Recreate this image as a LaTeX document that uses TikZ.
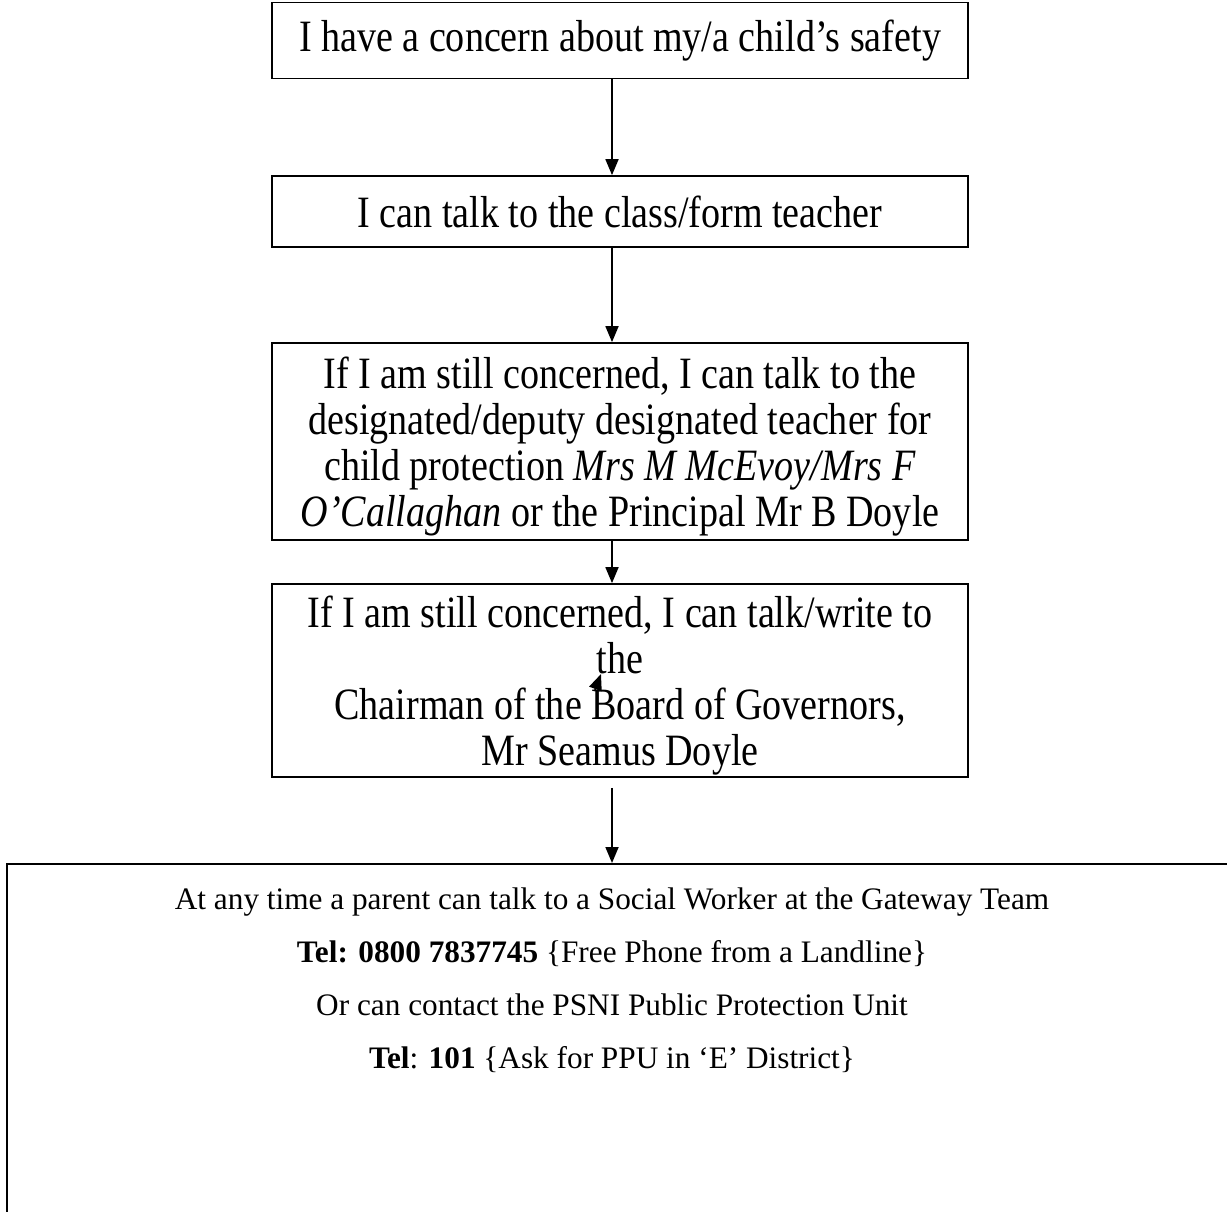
\documentclass[tikz,border=0pt]{standalone}
\usepackage{fontspec}
\setmainfont{Liberation Serif}
\newfontfamily\narrowfont{Liberation Serif}[Ligatures = TeX, FakeStretch = 0.85]
\usetikzlibrary{arrows.meta}
\tikzset{stepbox/.style = {draw, line width = 1pt, minimum width = 139.2mm, align = center, inner ysep = 0pt,
    font = \narrowfont\fontsize{25.5}{26.2}\selectfont},
  flow/.style = {line width = 1pt, -{Triangle[length = 3.2mm, width = 2.6mm]}}}

\begin{document}
\begin{tikzpicture}[x = 0.2mm, y = -0.2mm]
  \useasboundingbox (0, 0) rectangle (1227, 1211);
  \coordinate (ax) at (612, 0);

  \node [stepbox, minimum height = 15.2mm] (concern) at (620, 40.5) {I have a concern about my/a child's safety};
  \node [stepbox, minimum height = 14.2mm] (teacher) at (620, 211.5) {I can talk to the class/form teacher};
  \node [stepbox, minimum height = 39.4mm] (designated) at (620, 441.5)
    {If I am still concerned, I can talk to the\\ designated/deputy designated teacher for\\
     child protection \textit{Mrs M McEvoy/Mrs F}\\ \smash{\textit{O'Callaghan} or the Principal Mr B Doyle}};
  \node [stepbox, minimum height = 38.6mm] (chair) at (620, 680.5)
    {If I am still concerned, I can talk/write to\\ the\\ Chairman of the Board of Governors,\\ \smash{Mr Seamus Doyle}};

  \node [draw, line width = 1pt, anchor = north west, minimum width = 250mm, minimum height = 80mm] (gatewaybox) at (6, 863) {};
  \node [align = center, font = \fontsize{17.8}{30.2}\selectfont] (gateway) at (612, 980)
    {At any time a parent can talk to a Social Worker at the Gateway Team\\
     \textbf{Tel: 0800 7837745} \{Free Phone from a Landline\}\\
     Or can contact the PSNI Public Protection Unit\\
     \textbf{Tel}: \textbf{101} \{Ask for PPU in `E' District\}};

  \draw [flow] (concern.south -| ax) -- (teacher.north -| ax);
  \draw [flow] (teacher.south -| ax) -- (designated.north -| ax);
  \draw [flow] (designated.south -| ax) -- (chair.north -| ax);
  \draw [flow, shorten < = 2mm] (chair.south -| ax) -- (gatewaybox.north -| ax);

  % stray arrow head on "the"
  \coordinate (strayfrom) at (595, 690);
  \coordinate (strayto) at (601, 674);
  \draw [flow] (strayfrom) -- (strayto);
\end{tikzpicture}
\end{document}
